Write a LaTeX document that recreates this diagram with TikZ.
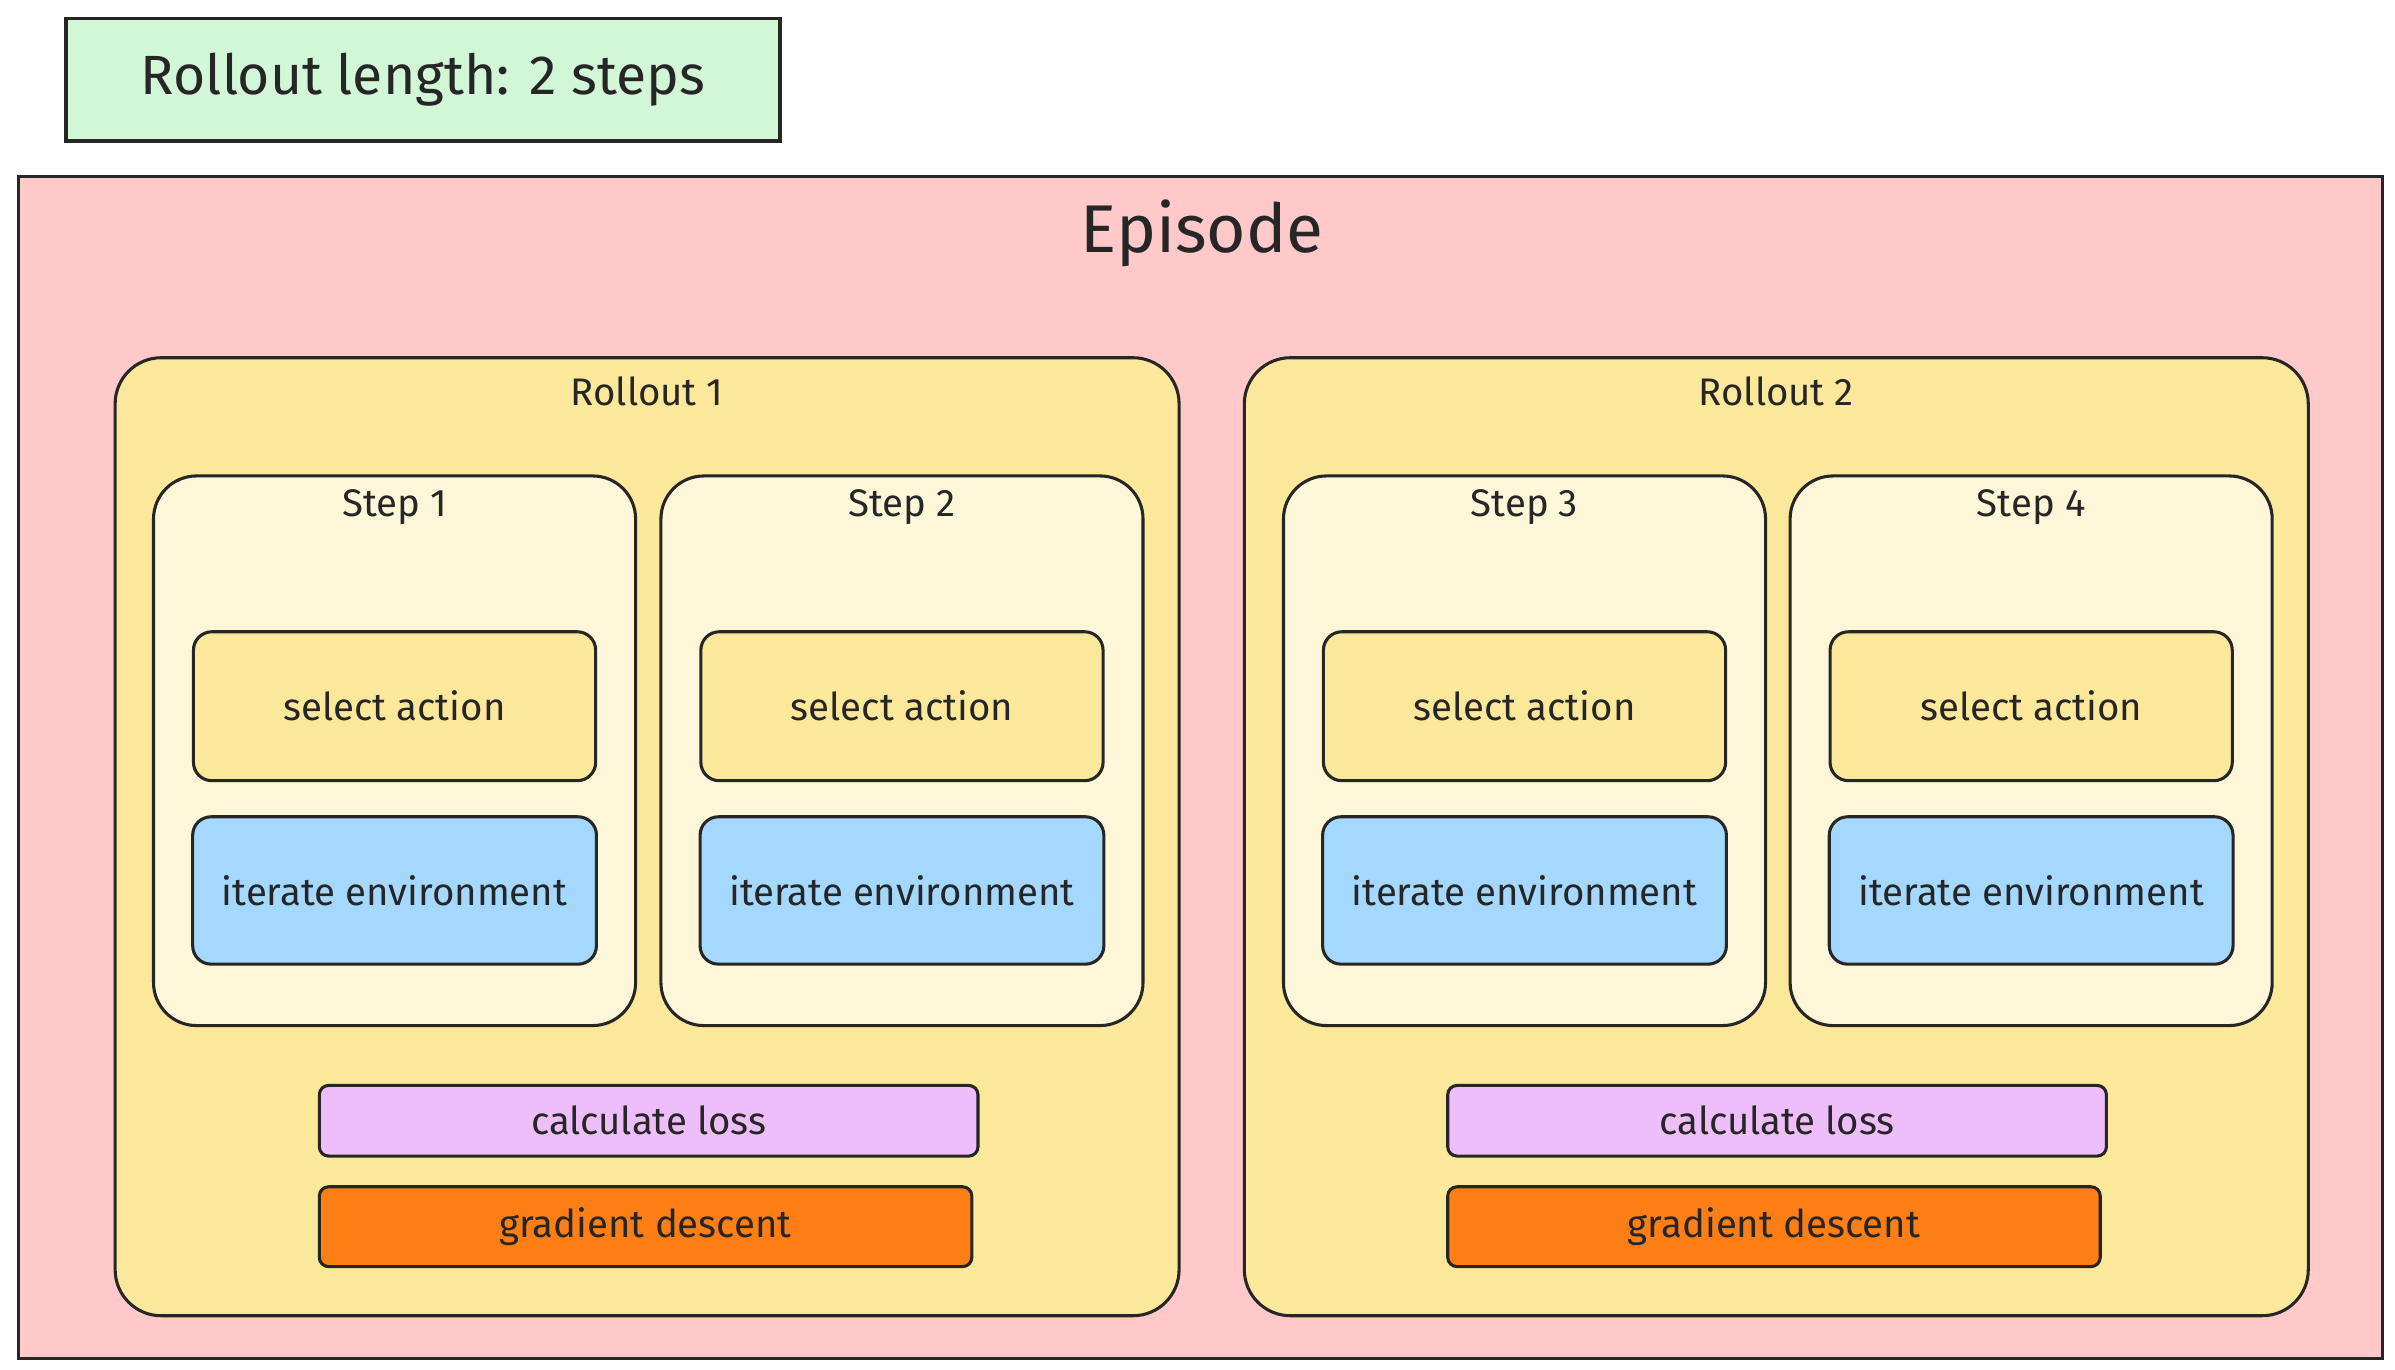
\documentclass[tikz,border=0pt]{standalone}
\usepackage{fontspec}
\setmainfont{Fira Sans}
\usetikzlibrary{patterns}
\definecolor{epi}{HTML}{FFC9C9}
\definecolor{roll}{HTML}{FCE89A}
\definecolor{stepc}{HTML}{FDF6D8}
\definecolor{sel}{HTML}{FCE89A}
\definecolor{itc}{HTML}{A5D8FF}
\definecolor{lossc}{HTML}{EEBEFA}
\definecolor{gradc}{HTML}{FD7E14}
\definecolor{grn}{HTML}{B2F2BB}
\begin{document}
\begin{tikzpicture}[x=1pt,y=-1pt,
  box/.style={draw=black!85,line width=2pt,rounded corners=12pt,inner sep=0pt},
  lbl/.style={font=\fontsize{25}{30}\selectfont,text=black!85}]
\useasboundingbox (0,0) rectangle (1560,892);
% rollout length
\node[draw=black!85,line width=2.5pt,fill=grn!60,minimum width=465pt,minimum height=80pt,font=\fontsize{36}{42}\selectfont,text=black!85] (rl) at (275.5,52) {Rollout length: 2 steps};
% episode
\node[draw=black!85,line width=2pt,fill=epi,minimum width=1540pt,minimum height=770pt,inner sep=0pt] (ep) at (782,500) {};
\node[font=\fontsize{44}{50}\selectfont,text=black!85] (ept) at (783,152) {Episode};
% rollouts
\foreach \n/\x/\t in {r1/421.5/Rollout 1, r2/1157/Rollout 2}{
  \node[box,rounded corners=30pt,fill=roll,minimum width=693pt,minimum height=624pt] (\n) at (\x,545) {};
  \node[lbl] (\n t) at (\x,255) {\t};
}
% steps
\foreach \n/\x/\t in {s1/257/Step 1, s2/587.5/Step 2, s3/993/Step 3, s4/1323/Step 4}{
  \node[box,rounded corners=28pt,fill=stepc,minimum width=314pt,minimum height=358pt] (\n) at (\x,489) {};
  \node[lbl] (\n t) at (\x,330) {\t};
  \node[box,fill=sel,minimum width=262pt,minimum height=97pt,lbl] (\n a) at (\x,460) {select action};
  \node[box,fill=itc,minimum width=263pt,minimum height=96pt,lbl] (\n e) at (\x,580) {iterate environment};
}
% loss/grad
\foreach \n/\x in {1/422.5, 2/1157.5}{
  \node[box,rounded corners=6pt,fill=lossc,minimum width=429pt,minimum height=46pt,lbl] (loss\n) at (\x,730) {calculate loss};
  \node[box,rounded corners=6pt,fill=gradc,minimum width=425pt,minimum height=52pt,lbl] (grad\n) at (\x-2,799) {gradient descent};
}
\end{tikzpicture}
\end{document}
